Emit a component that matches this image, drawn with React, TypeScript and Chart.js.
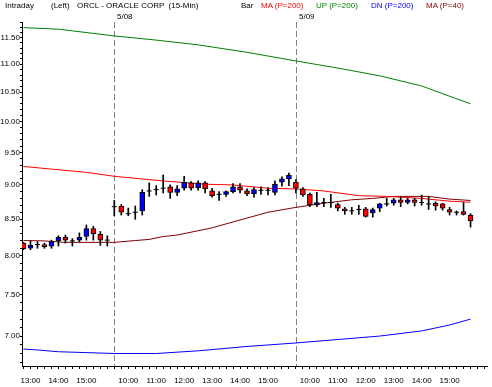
import React, { useEffect, useRef } from 'react';
import { Chart, registerables } from 'chart.js';

Chart.register(...registerables);

// ---- data ----
const sessionTimes = [
  '9:30', '9:45', '10:00', '10:15', '10:30', '10:45', '11:00', '11:15', '11:30', '11:45',
  '12:00', '12:15', '12:30', '12:45', '13:00', '13:15', '13:30', '13:45', '14:00', '14:15',
  '14:30', '14:45', '15:00', '15:15', '15:30', '15:45',
];
const times = [...sessionTimes.slice(13), ...sessionTimes, ...sessionTimes];
const dayStarts = [13, 39];
const dayLabels = ['5/08', '5/09'];

const opens = [
  8.17, 8.10, 8.15, 8.15, 8.13, 8.20, 8.25, 8.20, 8.21, 8.26, 8.37, 8.29, 8.21,
  8.68, 8.69, 8.58, 8.60, 8.62, 8.91, 8.93, 8.95, 8.97, 8.89, 8.95, 9.03, 8.96, 9.03, 8.91,
  8.86, 8.86, 8.90, 8.97, 8.91, 8.87, 8.92, 8.92, 8.89, 9.04, 9.09,
  9.04, 8.94, 8.86, 8.71, 8.74, 8.74, 8.71, 8.65, 8.62, 8.64, 8.65, 8.59, 8.66, 8.72, 8.73,
  8.78, 8.74, 8.78, 8.74, 8.72, 8.73, 8.72, 8.64, 8.60, 8.61, 8.56,
];
const highs = [
  8.18, 8.20, 8.19, 8.17, 8.21, 8.27, 8.28, 8.23, 8.31, 8.42, 8.40, 8.33, 8.27,
  8.77, 8.71, 8.66, 8.69, 8.93, 9.03, 8.99, 9.15, 9.00, 8.99, 9.13, 9.05, 9.06, 9.05, 8.95,
  8.90, 8.91, 9.02, 9.02, 8.94, 8.96, 8.97, 8.96, 9.06, 9.12, 9.18,
  9.08, 8.96, 8.88, 8.89, 8.80, 8.86, 8.73, 8.67, 8.67, 8.70, 8.67, 8.66, 8.73, 8.80, 8.80,
  8.82, 8.80, 8.80, 8.85, 8.83, 8.75, 8.73, 8.67, 8.62, 8.74, 8.58,
];
const lows = [
  8.08, 8.08, 8.10, 8.10, 8.10, 8.13, 8.17, 8.13, 8.19, 8.21, 8.21, 8.14, 8.13,
  8.55, 8.56, 8.55, 8.50, 8.56, 8.83, 8.85, 8.88, 8.80, 8.84, 8.92, 8.92, 8.92, 8.88, 8.82,
  8.77, 8.83, 8.88, 8.88, 8.84, 8.82, 8.86, 8.85, 8.85, 8.98, 8.99,
  8.88, 8.83, 8.68, 8.68, 8.68, 8.67, 8.62, 8.57, 8.57, 8.57, 8.53, 8.53, 8.61, 8.69, 8.70,
  8.68, 8.72, 8.69, 8.70, 8.64, 8.63, 8.63, 8.56, 8.56, 8.56, 8.39,
];
const closes = [
  8.09, 8.14, 8.15, 8.12, 8.19, 8.25, 8.21, 8.20, 8.25, 8.37, 8.30, 8.21, 8.21,
  8.68, 8.60, 8.58, 8.60, 8.89, 8.91, 8.93, 8.95, 8.89, 8.94, 9.04, 8.95, 9.03, 8.94, 8.84,
  8.86, 8.90, 8.97, 8.92, 8.87, 8.93, 8.92, 8.92, 9.01, 9.09, 9.15,
  8.95, 8.85, 8.71, 8.74, 8.74, 8.74, 8.66, 8.62, 8.62, 8.64, 8.54, 8.64, 8.72, 8.72, 8.78,
  8.74, 8.78, 8.74, 8.74, 8.72, 8.69, 8.66, 8.60, 8.60, 8.57, 8.48,
];

// indicator lines (bar index, value)
const upIdx = [0, 5, 13, 19, 25, 32, 39, 45, 51, 57, 61, 64];
const upVals = [11.69, 11.66, 11.53, 11.45, 11.36, 11.22, 11.06, 10.93, 10.79, 10.61, 10.43, 10.30];
const ma200Idx = [0, 4, 9, 13, 17, 20, 26, 30, 35, 39, 43, 48, 52, 57, 61, 64];
const ma200Vals = [9.28, 9.24, 9.19, 9.13, 9.09, 9.06, 9.01, 9.0, 8.95, 8.94, 8.91, 8.84, 8.83, 8.80, 8.76, 8.745];
const ma40Idx = [0, 3, 6, 13, 16, 18, 20, 22, 27, 31, 35, 39, 43, 47, 50, 53, 58, 61, 64];
const ma40Vals = [8.205, 8.20, 8.18, 8.18, 8.205, 8.22, 8.26, 8.28, 8.38, 8.49, 8.60, 8.67, 8.73, 8.78, 8.80, 8.83, 8.83, 8.79, 8.77];
const dnIdx = [0, 2, 5, 13, 19, 25, 32, 39, 45, 51, 57, 61, 64];
const dnVals = [6.85, 6.84, 6.82, 6.80, 6.80, 6.83, 6.88, 6.92, 6.96, 7.00, 7.06, 7.13, 7.20];

const yMajorTicks = [7.0, 7.5, 8.0, 8.5, 9.0, 9.5, 10.0, 10.5, 11.0, 11.5];

// ---- layout / style ----
const W = 492;
const H = 387;
const FONT = "'Liberation Sans', Arial, sans-serif";
const NARROW = "'Liberation Sans Narrow', 'Liberation Sans', Arial, sans-serif";
const X_MIN = -1.5 / 7;
const X_MAX = 66.5714286 - 1.5 / 7;
const Y_MIN = 6.66;
const Y_MAX = 11.8;

const header = [
  { text: 'Intraday', x: 5, color: '#000' },
  { text: '(Left)', x: 51, color: '#000' },
  { text: 'ORCL - ORACLE CORP  (15-Min)', x: 77, color: '#000' },
  { text: 'Bar', x: 241, color: '#000' },
  { text: 'MA (P=200)', x: 261, color: '#ff0000' },
  { text: 'UP (P=200)', x: 316, color: '#008000' },
  { text: 'DN (P=200)', x: 371, color: '#0000ff' },
  { text: 'MA (P=40)', x: 426, color: '#800000' },
];

const daySepPlugin = {
  id: 'daySep',
  beforeDatasetsDraw(chart: any) {
    const { ctx, chartArea, scales } = chart;
    const x = scales.x;
    ctx.save();
    ctx.strokeStyle = '#808080';
    ctx.lineWidth = 1;
    ctx.setLineDash([6, 3]);
    dayStarts.forEach((d) => {
      const px = Math.round(x.getPixelForValue(d)) + 0.5;
      ctx.beginPath();
      ctx.moveTo(px, chartArea.top);
      ctx.lineTo(px, chartArea.bottom);
      ctx.stroke();
    });
    ctx.restore();
  },
  afterDraw(chart: any) {
    const { ctx, scales } = chart;
    const x = scales.x;
    ctx.save();
    ctx.fillStyle = '#000';
    ctx.font = `8px ${FONT}`;
    ctx.textBaseline = 'alphabetic';
    ctx.textAlign = 'left';
    dayStarts.forEach((d, k) => {
      const px = Math.round(x.getPixelForValue(d));
      ctx.fillText(dayLabels[k], px + 3, 18.5);
    });
    ctx.restore();
  },
};

export default function App() {
  const ref = useRef<HTMLCanvasElement>(null);

  useEffect(() => {
    const canvas = ref.current;
    if (!canvas) return;

    const bodyData: any[] = [];
    const bodyColors: string[] = [];
    const dojiData: any[] = [];
    for (let i = 0; i < opens.length; i++) {
      if (opens[i] === closes[i]) {
        dojiData.push({ x: i, y: closes[i] });
      } else {
        bodyData.push({ x: i, y: [opens[i], closes[i]] });
        bodyColors.push(closes[i] > opens[i] ? '#0000ff' : '#ff0000');
      }
    }
    const wickData = highs.map((h, i) => ({ x: i, y: [lows[i], h] }));
    const pts = (idx: number[], vals: number[]) => idx.map((x, k) => ({ x, y: vals[k] }));
    const lineOpts = { borderWidth: 1, pointRadius: 0, tension: 0, fill: false };

    const xTicks: number[] = [];
    for (let i = 0; i <= 66; i++) xTicks.push(i);
    const yTicks: number[] = [];
    for (let v = 67; v <= 118; v++) yTicks.push(v / 10);

    const chart = new Chart(canvas, {
      type: 'bar',
      data: {
        datasets: [
          {
            type: 'bar',
            data: bodyData,
            backgroundColor: bodyColors,
            borderColor: '#000',
            borderWidth: 1,
            borderSkipped: false,
            barThickness: 5,
            grouped: false,
            order: 0,
          } as any,
          {
            type: 'scatter',
            data: dojiData,
            pointStyle: 'line',
            pointRadius: 2.5,
            borderColor: '#000',
            borderWidth: 1,
            showLine: false,
            order: 1,
          } as any,
          {
            type: 'bar',
            data: wickData,
            backgroundColor: '#000',
            borderWidth: 0,
            barThickness: 1,
            grouped: false,
            order: 2,
          } as any,
          { type: 'line', data: pts(ma200Idx, ma200Vals), borderColor: '#ff0000', ...lineOpts, order: 3 } as any,
          { type: 'line', data: pts(upIdx, upVals), borderColor: '#008000', ...lineOpts, order: 4 } as any,
          { type: 'line', data: pts(dnIdx, dnVals), borderColor: '#0000ff', ...lineOpts, order: 5 } as any,
          { type: 'line', data: pts(ma40Idx, ma40Vals), borderColor: '#800000', ...lineOpts, order: 6 } as any,
        ],
      },
      options: {
        animation: false,
        responsive: false,
        events: [],
        layout: { padding: { top: 22, right: 4, left: 0, bottom: 0 } },
        plugins: { legend: { display: false }, tooltip: { enabled: false }, title: { display: false } },
        scales: {
          x: {
            type: 'linear',
            min: X_MIN,
            max: X_MAX,
            offset: false,
            afterBuildTicks: (s: any) => {
              s.ticks = xTicks.map((v) => ({ value: v }));
            },
            afterFit: (s: any) => {
              s.height = 21;
            },
            grid: { drawOnChartArea: false, drawTicks: true, tickLength: 3, color: '#000', offset: false },
            border: { display: true, color: '#000', width: 1 },
            ticks: {
              autoSkip: false,
              maxRotation: 0,
              minRotation: 0,
              padding: 7,
              color: '#000',
              font: { size: 8, family: FONT },
              callback: (v: any) => {
                const t = times[v as number];
                return t && t.endsWith(':00') ? t : '';
              },
            },
          },
          y: {
            type: 'logarithmic',
            min: Y_MIN,
            max: Y_MAX,
            afterBuildTicks: (s: any) => {
              s.ticks = yTicks.map((v) => ({ value: v }));
            },
            afterFit: (s: any) => {
              s.width = 22;
            },
            grid: { drawOnChartArea: false, drawTicks: true, tickLength: 2, color: '#000' },
            border: { display: true, color: '#000', width: 1 },
            ticks: {
              autoSkip: false,
              padding: 0,
              color: '#000',
              font: { size: 8, family: NARROW },
              callback: (v: any) => {
                const n = Number(v);
                return yMajorTicks.some((m) => Math.abs(m - n) < 1e-6) ? n.toFixed(2) : '';
              },
            },
          },
        },
      } as any,
      plugins: [daySepPlugin],
    });

    return () => chart.destroy();
  }, []);

  return (
    <div style={{ position: 'fixed', left: 0, top: 0, width: W, height: H, background: '#fff', overflow: 'hidden' }}>
      <canvas ref={ref} width={W} height={H} style={{ display: 'block', width: W, height: H }} />
      {header.map((h) => (
        <span
          key={h.text}
          style={{
            position: 'absolute',
            left: h.x,
            top: 1,
            fontFamily: FONT,
            fontSize: '8px',
            lineHeight: '9px',
            color: h.color,
            whiteSpace: 'pre',
          }}
        >
          {h.text}
        </span>
      ))}
    </div>
  );
}
